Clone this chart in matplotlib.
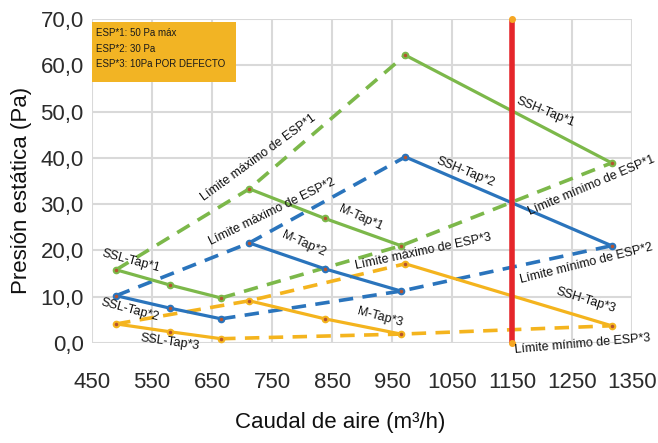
import matplotlib
matplotlib.use("Agg")
import matplotlib.pyplot as plt
from matplotlib.patches import Rectangle

plt.rcParams['font.family'] = ['Liberation Sans', 'DejaVu Sans']

# caudal (m3/h) for each speed block
ssl_x = [490, 580, 665]
m_x = [712, 838, 965]
ssh_x = [972, 1316]

# presion (Pa), one list per ESP setting
ssl_1 = [15.8, 12.5, 9.7]
ssl_2 = [10.2, 7.5, 5.2]
ssl_3 = [4.1, 2.4, 0.9]
m_1 = [33.3, 26.9, 21.0]
m_2 = [21.6, 16.0, 11.2]
m_3 = [9.1, 5.2, 1.9]
ssh_1 = [62.2, 38.9]
ssh_2 = [40.2, 21.0]
ssh_3 = [17.1, 3.7]

limite_x = 1150
x_ticks = [450, 550, 650, 750, 850, 950, 1050, 1150, 1250, 1350]
y_ticks = [0, 10, 20, 30, 40, 50, 60, 70]
info_lines = ["ESP*1: 50 Pa máx", "ESP*2: 30 Pa", "ESP*3: 10Pa POR DEFECTO"]

GREEN = "#7cb84a"
BLUE = "#2a74bc"
YELLOW = "#f4b41e"
RED = "#e5262b"

fig = plt.figure(figsize=(6.58, 4.43), dpi=100)
ax = fig.add_axes([0.14, 0.226, 0.8205, 0.731])

series = [
    (GREEN, ssl_1, m_1, ssh_1),
    (BLUE, ssl_2, m_2, ssh_2),
    (YELLOW, ssl_3, m_3, ssh_3),
]

for color, ssl, m, ssh in series:
    # limite maximo: first points, limite minimo: last points
    ax.plot([ssl_x[0], m_x[0], ssh_x[0]], [ssl[0], m[0], ssh[0]], color=color,
            lw=2.6, ls=(0, (4, 2.6)), zorder=2)
    ax.plot([ssl_x[-1], m_x[-1], ssh_x[-1]], [ssl[-1], m[-1], ssh[-1]], color=color,
            lw=2.6, ls=(0, (4, 2.6)), zorder=2)
    for xs, ys in ((ssl_x, ssl), (m_x, m), (ssh_x, ssh)):
        ax.plot(xs, ys, color=color, lw=2.3, marker="o", ms=4.5,
                mfc=color, mec=color, zorder=3)
        ax.plot(xs, ys, ls="none", marker="o", ms=1.5, color="#b5532f", zorder=4)

ax.plot([limite_x, limite_x], [0, 70], color=RED, lw=4, zorder=5)
ax.plot([limite_x, limite_x], [0, 70], ls="none", marker="o", ms=4,
        mfc="#f5a623", mec="#f5a623", zorder=6, clip_on=False)

labels = [
    ("SSL-Tap*1", 515, 17.7, -15),
    ("SSL-Tap*2", 513, 7.1, -15),
    ("SSL-Tap*3", 580, 0.2, -8),
    ("Límite máximo de ESP*1", 727, 40.0, 36),
    ("Límite máximo de ESP*2", 750, 28.3, 26),
    ("M-Tap*1", 897, 27.0, -24),
    ("M-Tap*2", 803, 21.4, -24),
    ("M-Tap*3", 930, 5.6, -15),
    ("Límite máximo de ESP*3", 1002, 19.7, 12),
    ("SSH-Tap*1", 1205, 49.9, -22),
    ("SSH-Tap*2", 1072, 36.9, -22),
    ("Límite mínimo de ESP*1", 1282, 33.9, 23),
    ("Límite mínimo de ESP*2", 1274, 17.1, 14),
    ("SSH-Tap*3", 1272, 9.3, -17),
    ("Límite mínimo de ESP*3", 1268, -0.2, 5),
]
for txt, x, y, rot in labels:
    ax.text(x, y, txt, rotation=rot, ha="center", va="center", fontsize=9,
            color="#111111", rotation_mode="anchor", zorder=7, clip_on=False)

# info box
ax.add_patch(Rectangle((450, 56.4), 240, 12.9, fc="#f2b424", ec="none", zorder=8))
for i, line in enumerate(info_lines):
    ax.text(457, 67.0 - i * 3.4, line, fontsize=7, va="center", ha="left",
            color="#1a1a1a", zorder=9)

ax.set_xlim(450, 1350)
ax.set_ylim(0, 70)
ax.set_xticks(x_ticks)
ax.set_yticks(y_ticks)
ax.set_yticklabels([f"{v:.1f}".replace(".", ",") for v in y_ticks])
ax.tick_params(length=0, labelsize=16, colors="#2b2b2b")
ax.tick_params(axis="x", pad=21)
ax.tick_params(axis="y", pad=6)
ax.grid(True, color="#d9d9d9", lw=1.5)
ax.set_axisbelow(True)
for s in ax.spines.values():
    s.set_visible(False)
ax.set_xlabel("Caudal de aire (m³/h)", fontsize=16, color="#111111")
ax.xaxis.set_label_coords(0.46, -0.213)
ax.set_ylabel("Presión estática (Pa)", fontsize=16, color="#111111")
ax.yaxis.set_label_coords(-0.111, 0.47)

fig.savefig("out.png", dpi=100)
